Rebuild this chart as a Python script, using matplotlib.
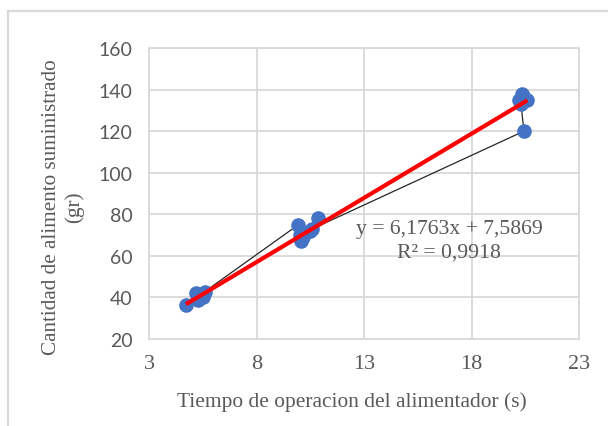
import matplotlib
matplotlib.use("Agg")
import matplotlib.pyplot as plt
from matplotlib.patches import Rectangle
import numpy as np

# Measured feeder runs: operating time (s) and food delivered (g), in run order
tiempo = [4.72, 5.2, 5.3, 5.5, 5.6, 5.35,
          9.95, 10.0, 10.05, 10.15, 10.5, 10.85, 10.6,
          20.44, 20.3, 20.4, 20.2, 20.6, 20.35]
cantidad = [36.5, 42.0, 39.0, 40.0, 42.5, 41.0,
            75.0, 70.0, 67.0, 69.0, 72.0, 78.0, 73.0,
            120.0, 133.0, 137.0, 135.0, 135.0, 138.0]

# Linear trendline reported on the chart
pendiente = 6.1763
intercepto = 7.5869
r2 = 0.9918

x_ticks = [3, 8, 13, 18, 23]
y_ticks = [20, 40, 60, 80, 100, 120, 140, 160]

W, H = 608, 427
fig = plt.figure(figsize=(W / 100, H / 100), dpi=100)
fig.patch.set_facecolor("white")

# chart-area border
fig.patches.append(Rectangle((8 / W, -0.1), 1.2, (H - 12) / H + 0.1,
                             transform=fig.transFigure, fill=False,
                             edgecolor="#d9d9d9", linewidth=1.6))

ax = fig.add_axes([149 / W, (H - 340) / H, 430 / W, 291 / H])
grid_c = "#d9d9d9"
text_c = "#595959"

ax.plot(tiempo, cantidad, color="#262626", linewidth=0.9, zorder=2)
ax.plot(tiempo, cantidad, linestyle="none", marker="o", markersize=9.5,
        color="#4472C4", zorder=3)

xt = np.array([min(tiempo), max(tiempo)])
ax.plot(xt, pendiente * xt + intercepto, color="#ff0000", linewidth=3, zorder=4,
        solid_capstyle="butt")

ax.set_xlim(3, 23)
ax.set_ylim(20, 160)
ax.set_xticks(x_ticks)
ax.set_yticks(y_ticks)
ax.grid(True, color=grid_c, linewidth=1.3)
ax.set_axisbelow(True)
for s in ax.spines.values():
    s.set_color(grid_c)
    s.set_linewidth(1.3)
ax.tick_params(length=0)
ax.tick_params(axis="y", pad=12)
ax.tick_params(axis="x", pad=11)
for lab in ax.get_yticklabels():
    lab.set_fontfamily("Lato")
    lab.set_fontsize(14)
    lab.set_color(text_c)
for lab in ax.get_xticklabels():
    lab.set_fontfamily("Liberation Serif")
    lab.set_fontsize(16)
    lab.set_color(text_c)

serif = "Liberation Serif"
ax.set_xlabel("Tiempo de operacion del alimentador (s)", fontfamily=serif,
              fontsize=15.4, color=text_c, labelpad=13)
ax.xaxis.label.set_x(0.472)
ax.set_ylabel("Cantidad de alimento suministrado\n(gr)", fontfamily=serif,
              fontsize=15.2, color=text_c, labelpad=10, linespacing=1.25)
ax.yaxis.label.set_y(0.457)

eq = "y = {:.4f}x + {:.4f}".format(pendiente, intercepto).replace(".", ",")
rr = "R² = {:.4f}".format(r2).replace(".", ",")
ax.text(16.95, 73.2, eq, fontfamily=serif, fontsize=15.6, color=text_c,
        ha="center", va="center")
ax.text(16.95, 61.8, rr, fontfamily=serif, fontsize=15.6, color=text_c,
        ha="center", va="center")

fig.savefig("out.png", dpi=100, facecolor="white")
